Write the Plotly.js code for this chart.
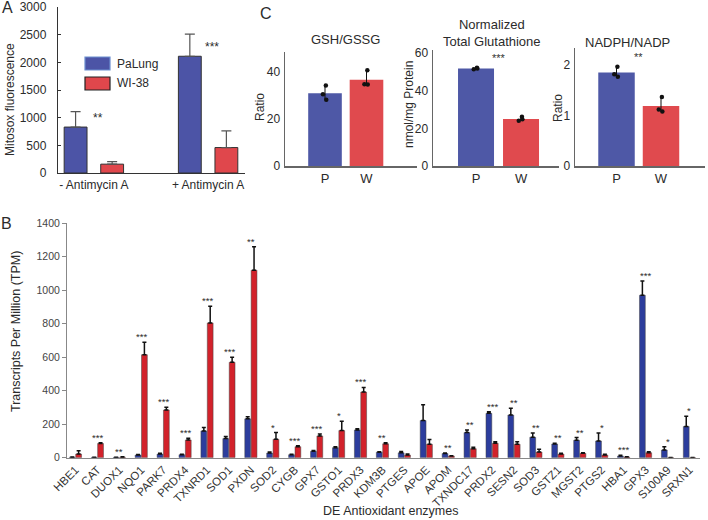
<!DOCTYPE html>
<html>
<head>
<meta charset="utf-8">
<script src="https://cdn.plot.ly/plotly-3.0.1.min.js"></script>
<style>
  html, body { margin: 0; padding: 0; background: #fff; }
  #chart { width: 708px; height: 520px; }
</style>
</head>
<body>
<div id="chart"></div>
<script>
// ---- panel A: mitosox
const conditions = ["- Antimycin A", "+ Antimycin A"];
const mitoPaLung = [830, 2110];
const mitoPaLungErr = [280, 400];
const mitoWI38 = [160, 460];
const mitoWI38Err = [45, 300];
const mitoStars = ["**", "***"];
const mitoStarY = [1000, 2280];

// ---- panel B: DE antioxidant enzymes (TPM)
const genes = ["HBE1", "CAT", "DUOX1", "NQO1", "PARK7", "PRDX4", "TXNRD1", "SOD1", "PXDN",
  "SOD2", "CYGB", "GPX7", "GSTO1", "PRDX3", "KDM3B", "PTGES", "APOE", "APOM", "TXNDC17",
  "PRDX2", "SESN2", "SOD3", "GSTZ1", "MGST2", "PTGS2", "HBA1", "GPX3", "S100A9", "SRXN1"];
const tpmPaLung = [3, 2, 2, 16, 22, 18, 160, 114, 232, 28, 18, 38, 60, 166, 33, 29, 222, 25, 150,
  265, 255, 122, 82, 104, 100, 10, 970, 46, 186];
const tpmPaLungErr = [1, 1, 1, 3, 4, 3, 20, 12, 13, 6, 3, 5, 6, 7, 3, 8, 95, 3, 15,
  10, 40, 25, 4, 16, 48, 4, 85, 20, 62];
const tpmWI38 = [22, 85, 3, 615, 285, 106, 805, 570, 1120, 110, 66, 130, 162, 392, 83, 16, 80, 10, 54,
  86, 80, 34, 22, 26, 16, 4, 30, 1, 1];
const tpmWI38Err = [20, 5, 2, 75, 16, 10, 100, 30, 140, 40, 6, 12, 55, 28, 6, 6, 28, 2, 8,
  10, 16, 16, 4, 4, 4, 2, 6, 0, 0];
const tpmStars = ["", "***", "**", "***", "***", "***", "***", "***", "**", "*", "***", "***", "*", "***",
  "**", "", "", "**", "**", "***", "**", "**", "**", "**", "*", "***", "***", "*", "*"];

// ---- panel C: glutathione / NADPH (3 replicates each)
const groups = ["P", "W"];
const gshPoints = [[34.3, 30.5, 28.2], [40.7, 34.8, 34.7]];
const glutPoints = [[52.2, 51.5, 51.8], [26.2, 24.1, 24.8]];
const nadphPoints = [[1.97, 1.82, 1.77], [1.37, 1.12, 1.08]];
const jitter = [0.02, -0.05, 0.03];
const glutStars = "***";
const nadphStars = "**";

const W = 708, H = 520;
const px = x => x / W;
const py = y => 1 - y / H;
const font = "Liberation Sans, Arial, sans-serif";
const txt = "#2b2b2b";

const blueA = "#4c54a6", redA = "#e0474c";
const blueB = "#2c3d9d", redB = "#d2222b";
const blueC = "#4e58a6", redC = "#e04a4e";

const mean = a => a.reduce((s, v) => s + v, 0) / a.length;

const traces = [];

// A
traces.push({
  type: "bar", x: conditions, y: mitoPaLung, xaxis: "x", yaxis: "y",
  width: 0.2, offset: -0.26,
  marker: { color: blueA, line: { color: "#333", width: 1 } },
  error_y: { type: "data", symmetric: false, array: mitoPaLungErr, arrayminus: [0, 0], color: "#555", thickness: 1.2, width: 5 },
  showlegend: false
});
traces.push({
  type: "bar", x: conditions, y: mitoWI38, xaxis: "x", yaxis: "y",
  width: 0.2, offset: 0.06,
  marker: { color: redA, line: { color: "#333", width: 1 } },
  error_y: { type: "data", symmetric: false, array: mitoWI38Err, arrayminus: [0, 0], color: "#555", thickness: 1.2, width: 5 },
  showlegend: false
});

// B
const zeros = genes.map(() => 0);
traces.push({
  type: "bar", x: genes, y: tpmPaLung, xaxis: "x2", yaxis: "y2",
  width: 0.265, offset: -0.28,
  marker: { color: blueB, line: { color: "#444", width: 0.5 } },
  error_y: { type: "data", symmetric: false, array: tpmPaLungErr, arrayminus: zeros, color: "#111", thickness: 1.5, width: 2 },
  showlegend: false
});
traces.push({
  type: "bar", x: genes, y: tpmWI38, xaxis: "x2", yaxis: "y2",
  width: 0.265, offset: 0.01,
  marker: { color: redB, line: { color: "#444", width: 0.5 } },
  error_y: { type: "data", symmetric: false, array: tpmWI38Err, arrayminus: zeros, color: "#111", thickness: 1.5, width: 2 },
  showlegend: false
});

// C
function panelC(points, xa, ya, barWidth) {
  const m = points.map(mean);
  traces.push({
    type: "bar", x: [0, 1], y: m, xaxis: xa, yaxis: ya, width: barWidth,
    marker: { color: [blueC, redC], line: { width: 0 } },
    error_y: {
      type: "data", symmetric: false,
      array: points.map((p, i) => Math.max(...p) - m[i]),
      arrayminus: points.map((p, i) => m[i] - Math.min(...p)),
      color: "#111", thickness: 1, width: 0
    },
    showlegend: false
  });
  const xs = [], ys = [];
  points.forEach((p, i) => p.forEach((v, j) => { xs.push(i + jitter[j]); ys.push(v); }));
  traces.push({
    type: "scatter", mode: "markers", x: xs, y: ys, xaxis: xa, yaxis: ya,
    marker: { color: "#111", size: 4.5 }, showlegend: false, cliponaxis: false
  });
  return m;
}
panelC(gshPoints, "x3", "y3", 0.81);
panelC(glutPoints, "x4", "y4", 0.8);
panelC(nadphPoints, "x5", "y5", 0.82);

// annotations
const ann = [];
const label = (text, x, y, size, extra) => ann.push(Object.assign({
  text, x: px(x), y: py(y), xref: "paper", yref: "paper", showarrow: false,
  font: { family: font, size, color: txt }, xanchor: "center", yanchor: "middle"
}, extra || {}));

label("A", 7, 8, 16);
label("C", 266, 13, 16);
label("B", 6, 223, 16);
label("Mitosox fluorescence", 10, 100, 12, { textangle: -90 });
label("Transcripts Per Million (TPM)", 16, 332, 12.5, { textangle: -90 });
label("DE Antioxidant enzymes", 391, 511, 12.5);
label("GSH/GSSG", 345, 40, 13);
label("Normalized<br>Total Glutathione", 492, 33, 13);
label("NADPH/NADP", 627, 42, 13);
label("Ratio", 260, 107, 12, { textangle: -90 });
label("nmol/mg Protein", 409, 105, 12, { textangle: -90 });
label("Ratio", 558, 108, 12, { textangle: -90 });
label("PaLung", 115, 64, 12, { xanchor: "left" });
label("WI-38", 115, 83, 12, { xanchor: "left" });

mitoStars.forEach((s, i) => ann.push({
  text: s, x: conditions[i], y: mitoStarY[i], xref: "x", yref: "y", xshift: 4,
  showarrow: false, font: { family: font, size: 12, color: txt }
}));

genes.forEach((g, i) => {
  if (!tpmStars[i]) return;
  const top = Math.max(tpmPaLung[i] + tpmPaLungErr[i], tpmWI38[i] + tpmWI38Err[i]);
  ann.push({
    text: tpmStars[i], x: g, y: top, xref: "x2", yref: "y2", yanchor: "bottom", yshift: -2,
    showarrow: false, font: { family: font, size: 9.5, color: txt }
  });
});

ann.push({ text: glutStars, x: 0.5, y: Math.max(...glutPoints[0]), xref: "x4", yref: "y4",
  yanchor: "bottom", yshift: 2, showarrow: false, font: { family: font, size: 11, color: "#333" } });
ann.push({ text: nadphStars, x: 0.5, y: Math.max(...nadphPoints[0]), xref: "x5", yref: "y5",
  yanchor: "bottom", yshift: 2, showarrow: false, font: { family: font, size: 11, color: "#333" } });

// legend boxes for panel A
const shapes = [
  { type: "rect", xref: "paper", yref: "paper", x0: px(85), x1: px(110), y0: py(70), y1: py(57),
    fillcolor: blueA, line: { color: "#6d8fd0", width: 1.2 } },
  { type: "rect", xref: "paper", yref: "paper", x0: px(85), x1: px(110), y0: py(90), y1: py(77),
    fillcolor: redA, line: { color: "#222", width: 1.2 } }
];

const cAxisX = (dom, range) => ({
  domain: dom, range, tickvals: [0, 1], ticktext: groups, showline: true, linecolor: "#666",
  linewidth: 1.5, ticks: "", showgrid: false, zeroline: false, fixedrange: true,
  tickfont: { family: font, size: 13, color: txt }
});
const cAxisY = (dom, range, tickvals, anchor) => ({
  domain: dom, range, tickvals, anchor, showline: true, linecolor: "#666", linewidth: 1.5,
  ticks: "", showgrid: false, zeroline: false, tickfont: { family: font, size: 12, color: txt },
  ticklabelstandoff: 1
});

const layout = {
  width: W, height: H,
  margin: { l: 0, r: 0, t: 0, b: 0 },
  paper_bgcolor: "#fff", plot_bgcolor: "rgba(0,0,0,0)",
  font: { family: font, color: txt },
  barmode: "group", showlegend: false,
  xaxis: {
    domain: [px(58), px(245)], anchor: "y", type: "category", range: [-0.314, 1.323],
    showline: true, linecolor: "#333", linewidth: 1.2, ticks: "", showgrid: false,
    tickfont: { family: font, size: 12, color: txt }
  },
  yaxis: {
    domain: [py(173), py(7)], anchor: "x", range: [0, 3000], dtick: 500,
    showline: true, linecolor: "#333", linewidth: 1.2, ticks: "inside", ticklen: 3, tickcolor: "#333",
    showgrid: false, zeroline: false, tickfont: { family: font, size: 12, color: txt },
    ticklabelstandoff: 8
  },
  xaxis2: {
    domain: [px(67), px(700)], anchor: "y2", type: "category", range: [-0.388, 28.48],
    tickangle: -45, showline: true, linecolor: "#888", linewidth: 1, ticks: "", showgrid: false,
    tickfont: { family: font, size: 11.5, color: "#333" }
  },
  yaxis2: {
    domain: [py(457.7), py(223.3)], anchor: "x2", range: [0, 1400], dtick: 200,
    showline: true, linecolor: "#888", linewidth: 1, ticks: "outside", ticklen: 4, tickcolor: "#888",
    showgrid: false, zeroline: false, tickfont: { family: font, size: 10.5, color: "#444" }
  },
  xaxis3: Object.assign(cAxisX([px(285), px(417)], [-0.964, 2.217]), { anchor: "y3" }),
  yaxis3: cAxisY([py(166), py(52)], [0, 48.5], [0, 20, 40], "x3"),
  xaxis4: Object.assign(cAxisX([px(433), px(559)], [-0.956, 1.844]), { anchor: "y4" }),
  yaxis4: cAxisY([py(166), py(50)], [0, 61.7], [0, 20, 40, 60], "x4"),
  xaxis5: Object.assign(cAxisX([px(575), px(705)], [-0.933, 1.989]), { anchor: "y5" }),
  yaxis5: cAxisY([py(166), py(48)], [0, 2.34], [0, 1, 2], "x5"),
  annotations: ann,
  shapes: shapes
};

Plotly.newPlot("chart", traces, layout, { displayModeBar: false, staticPlot: true });
</script>
</body>
</html>
